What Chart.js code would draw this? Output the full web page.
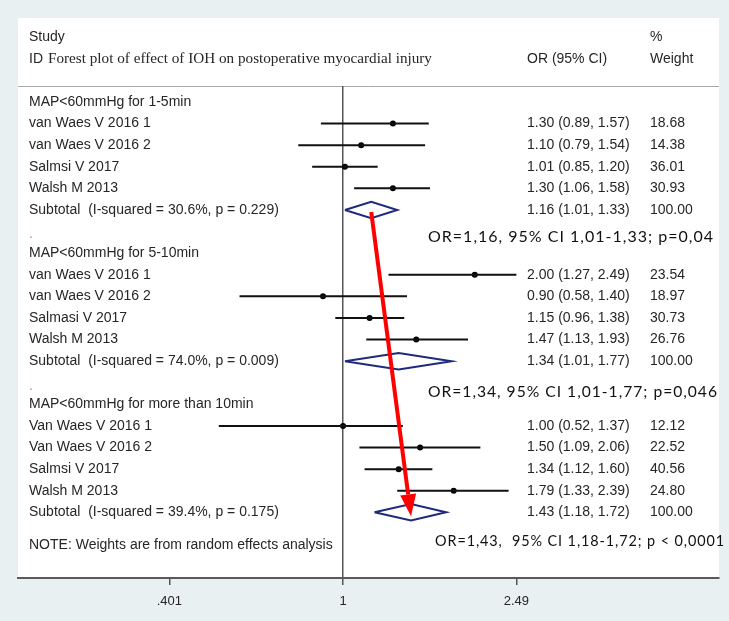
<!DOCTYPE html>
<html>
<head>
<meta charset="utf-8">
<script src="https://cdn.jsdelivr.net/npm/chart.js@4.4.1/dist/chart.umd.min.js"></script>
<style>
  body { margin: 0; background: #e9f0f2; }
  #wrap { width: 729px; height: 621px; }
</style>
</head>
<body>
<div id="wrap"><canvas id="forest"></canvas></div>
<script>
// subgroup headings
var groupNames = ['MAP<60mmHg for 1-5min', 'MAP<60mmHg for 5-10min', 'MAP<60mmHg for more than 10min'];

// studies per subgroup
var studyNames = [
  ['van Waes V 2016 1', 'van Waes V 2016 2', 'Salmsi V 2017', 'Walsh M 2013'],
  ['van Waes V 2016 1', 'van Waes V 2016 2', 'Salmasi V 2017', 'Walsh M 2013'],
  ['Van Waes V 2016 1', 'Van Waes V 2016 2', 'Salmsi V 2017', 'Walsh M 2013']
];
var orValues = [[1.30, 1.10, 1.01, 1.30], [2.00, 0.90, 1.15, 1.47], [1.00, 1.50, 1.34, 1.79]];
var ciLow    = [[0.89, 0.79, 0.85, 1.06], [1.27, 0.58, 0.96, 1.13], [0.52, 1.09, 1.12, 1.33]];
var ciHigh   = [[1.57, 1.54, 1.20, 1.58], [2.49, 1.40, 1.38, 1.93], [1.37, 2.06, 1.60, 2.39]];
var weights  = [['18.68', '14.38', '36.01', '30.93'], ['23.54', '18.97', '30.73', '26.76'], ['12.12', '22.52', '40.56', '24.80']];

// subtotals
var subLabels = ['Subtotal  (I-squared = 30.6%, p = 0.229)', 'Subtotal  (I-squared = 74.0%, p = 0.009)', 'Subtotal  (I-squared = 39.4%, p = 0.175)'];
var subOr   = [1.16, 1.34, 1.43];
var subLow  = [1.01, 1.01, 1.18];
var subHigh = [1.33, 1.77, 1.72];
var subNotes = ['OR=1,16, 95% CI 1,01-1,33; p=0,04', 'OR=1,34, 95% CI 1,01-1,77; p=0,046', 'OR=1,43,  95% CI 1,18-1,72; p < 0,0001'];

// x axis ticks
var tickValues = [0.401, 1, 2.49];
var tickLabels = ['.401', '1', '2.49'];

var sans = '"Liberation Sans", Arial, sans-serif';
var txtColor = '#262626';

// build row layout: header, 4 studies, subtotal, spacer dot
var rows = [];
var r = 0;
groupNames.forEach(function(g, gi) {
  rows.push({ type: 'group', label: g, y: r++ });
  studyNames[gi].forEach(function(s, si) {
    rows.push({ type: 'study', label: s, y: r++, or: orValues[gi][si], lo: ciLow[gi][si], hi: ciHigh[gi][si], w: weights[gi][si] });
  });
  rows.push({ type: 'sub', label: subLabels[gi], y: r++, or: subOr[gi], lo: subLow[gi], hi: subHigh[gi], w: '100.00', note: subNotes[gi], g: gi });
  if (gi < groupNames.length - 1) rows.push({ type: 'dot', y: r++ });
});
var noteRow = r + 0.5;

function fmt(v) { return v.toFixed(2); }

var ciData = [], pointData = [], diamondData = [];
rows.forEach(function(row) {
  if (row.type === 'study') {
    ciData.push({ x: row.lo, y: row.y }, { x: row.hi, y: row.y }, { x: 1, y: null });
    pointData.push({ x: row.or, y: row.y });
  }
  if (row.type === 'sub') {
    var h = 0.38;
    diamondData.push({ x: row.lo, y: row.y }, { x: row.or, y: row.y - h }, { x: row.hi, y: row.y },
                     { x: row.or, y: row.y + h }, { x: row.lo, y: row.y }, { x: 1, y: null });
  }
});

var forestText = {
  id: 'forestText',
  beforeDraw: function(chart) {
    var ctx = chart.ctx, a = chart.chartArea;
    ctx.save();
    ctx.fillStyle = '#e9f0f2';
    ctx.fillRect(0, 0, chart.width, chart.height);
    ctx.fillStyle = '#fff';
    ctx.fillRect(a.left, 18, a.right - a.left, a.bottom - 18);
    // header rule
    ctx.strokeStyle = '#a8a8a8';
    ctx.lineWidth = 1;
    ctx.beginPath();
    ctx.moveTo(a.left, a.top + 0.5);
    ctx.lineTo(a.right, a.top + 0.5);
    ctx.stroke();
    ctx.restore();
  },
  afterDatasetsDraw: function(chart) {
    var ctx = chart.ctx, xs = chart.scales.x, ys = chart.scales.y;
    ctx.save();
    ctx.textBaseline = 'middle';
    ctx.fillStyle = txtColor;
    ctx.font = '14px ' + sans;
    ctx.fillText('Study', 29, 37);
    ctx.fillText('ID', 29, 59);
    ctx.fillText('%', 650, 37);
    ctx.fillText('Weight', 650, 59);
    ctx.fillText('OR (95% CI)', 527, 59);
    ctx.font = '15.2px "Liberation Serif", "Times New Roman", serif';
    ctx.fillText('Forest plot of effect of IOH on postoperative myocardial injury', 48, 59);

    ctx.font = '14px ' + sans;
    rows.forEach(function(row) {
      var py = ys.getPixelForValue(row.y);
      ctx.fillStyle = txtColor;
      if (row.type === 'dot') {
        ctx.fillStyle = '#999';
        ctx.fillText('.', 29, py + 3);
        return;
      }
      ctx.fillText(row.label, 29, py);
      if (row.type === 'study' || row.type === 'sub') {
        ctx.fillText(fmt(row.or) + ' (' + fmt(row.lo) + ', ' + fmt(row.hi) + ')', 527, py);
        ctx.fillText(row.w, 650, py);
      }
    });
    ctx.fillText('NOTE: Weights are from random effects analysis', 29, ys.getPixelForValue(noteRow));

    // red arrow from first to last subtotal estimate
    var subs = rows.filter(function(x) { return x.type === 'sub'; });
    var s0 = subs[0], s1 = subs[subs.length - 1];
    var x0 = xs.getPixelForValue(s0.or), y0 = ys.getPixelForValue(s0.y) + 2;
    var x1 = xs.getPixelForValue(s1.or), y1 = ys.getPixelForValue(s1.y) + 4;
    var ang = Math.atan2(y1 - y0, x1 - x0);
    var len = 22, half = 8;
    var bx = x1 - len * Math.cos(ang), by = y1 - len * Math.sin(ang);
    ctx.strokeStyle = '#ff0000';
    ctx.fillStyle = '#ff0000';
    ctx.lineWidth = 4;
    ctx.beginPath();
    ctx.moveTo(x0, y0);
    ctx.lineTo(bx, by);
    ctx.stroke();
    ctx.beginPath();
    ctx.moveTo(x1, y1);
    ctx.lineTo(bx + half * Math.sin(ang), by - half * Math.cos(ang));
    ctx.lineTo(bx - half * Math.sin(ang), by + half * Math.cos(ang));
    ctx.closePath();
    ctx.fill();

    // annotation text for each subtotal
    ctx.fillStyle = '#111';
    ctx.font = '16px Lato, "Noto Sans", sans-serif';
    ctx.letterSpacing = '1px';
    var offs = [1.25, 1.4, 1.3];
    var lefts = [428, 428, 435];
    var widths = [288, 290, 290];
    subs.forEach(function(s, i) {
      ctx.fillText(s.note, lefts[i], ys.getPixelForValue(s.y + offs[i]), widths[i]);
    });
    ctx.restore();
  }
};

var ctx = document.getElementById('forest').getContext('2d');
var chart = new Chart(ctx, {
  type: 'scatter',
  data: {
    datasets: [
      { label: 'CI', data: ciData, showLine: true, spanGaps: false, borderColor: '#111', borderWidth: 2, pointRadius: 0, tension: 0 },
      { label: 'OR', data: pointData, pointRadius: 3, pointBackgroundColor: '#000', pointBorderColor: '#000', pointBorderWidth: 0 },
      { label: 'Subtotal', data: diamondData, showLine: true, spanGaps: false, borderColor: '#1f2a7c', borderWidth: 2, pointRadius: 0, tension: 0 }
    ]
  },
  options: {
    responsive: true,
    maintainAspectRatio: false,
    animation: false,
    layout: { padding: { left: 18, right: 10, top: 86, bottom: 0 } },
    plugins: { legend: { display: false }, tooltip: { enabled: false } },
    scales: {
      x: {
        type: 'logarithmic',
        min: 0.1808,
        max: 7.23,
        afterBuildTicks: function(scale) {
          scale.ticks = tickValues.map(function(v) { return { value: v }; });
        },
        afterFit: function(scale) { scale.height = 43; },
        ticks: {
          autoSkip: false,
          maxRotation: 0,
          padding: 9,
          color: txtColor,
          font: { family: sans, size: 13 },
          callback: function(v) {
            var i = tickValues.indexOf(v);
            return i >= 0 ? tickLabels[i] : '';
          }
        },
        grid: {
          drawOnChartArea: true,
          tickLength: 7,
          lineWidth: 1.5,
          color: function(c) { return c.tick && c.tick.value === 1 ? '#555' : 'rgba(0,0,0,0)'; },
          tickColor: '#555'
        },
        border: { display: true, color: '#5a5a5a', width: 2 }
      },
      y: {
        type: 'linear',
        display: false,
        reverse: true,
        min: -0.74,
        max: 22.04
      }
    }
  },
  plugins: [forestText]
});
</script>
</body>
</html>
